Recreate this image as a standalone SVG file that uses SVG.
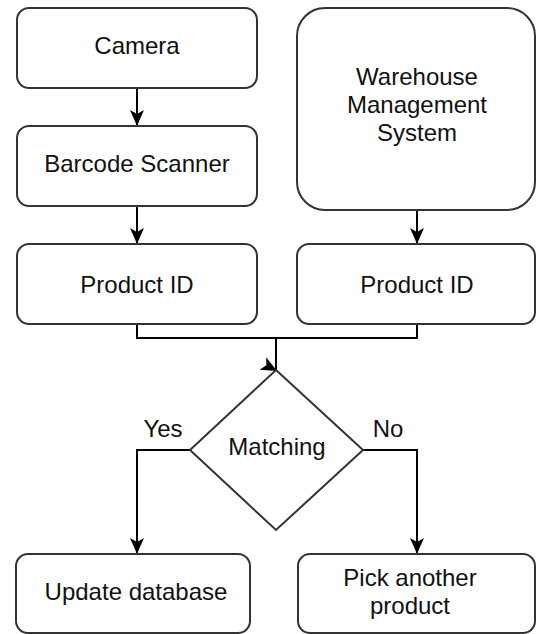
<svg xmlns="http://www.w3.org/2000/svg" xmlns:xlink="http://www.w3.org/1999/xlink" width="536" height="634" viewBox="0 0 536 634">
  <style>
    .box { fill: #ffffff; stroke: #333333; stroke-width: 2; }
    .edge { fill: none; stroke: #000000; stroke-width: 2; }
    .lbl { font-family: "Liberation Sans", Arial, sans-serif; font-size: 24px; fill: #111111; text-anchor: middle; }
  </style>
  <defs>
    <!-- classic notched arrowhead, tip at the line end -->
    <marker id="arrow" viewBox="-17 -8 18 16" refX="0" refY="0" markerWidth="18" markerHeight="16" markerUnits="userSpaceOnUse" orient="auto">
      <path d="M0,0 L-16,-7 L-12,0 L-16,7 Z" fill="#000000"/>
    </marker>
    <path id="head" d="M0,0 L-16,-7 L-12,0 L-16,7 Z" fill="#000000"/>
  </defs>
  <rect width="536" height="634" fill="#ffffff"/>

  <g id="connectors">
    <line class="edge" x1="137" y1="88" x2="137" y2="126" marker-end="url(#arrow)"/>
    <line class="edge" x1="137" y1="206" x2="137" y2="244" marker-end="url(#arrow)"/>
    <line class="edge" x1="417" y1="210" x2="417" y2="244" marker-end="url(#arrow)"/>
    <polyline class="edge" points="137,324 137,338 417,338 417,324"/>
    <line class="edge" x1="276" y1="338" x2="276" y2="370"/>
    <use xlink:href="#head" transform="translate(277,371) rotate(28)"/>
    <polyline class="edge" points="190,450 137,450 137,554" marker-end="url(#arrow)"/>
    <polyline class="edge" points="363,450 417,450 417,554" marker-end="url(#arrow)"/>
  </g>

  <g id="camera">
    <rect class="box" x="17" y="8" width="240" height="80" rx="12"/>
    <text class="lbl" x="137" y="54">Camera</text>
  </g>
  <g id="barcode-scanner">
    <rect class="box" x="17" y="126" width="240" height="80" rx="12"/>
    <text class="lbl" x="137" y="172">Barcode Scanner</text>
  </g>
  <g id="product-id-left">
    <rect class="box" x="17" y="244" width="240" height="80" rx="12"/>
    <text class="lbl" x="137" y="293">Product ID</text>
  </g>
  <g id="wms">
    <rect class="box" x="297" y="8" width="238" height="202" rx="28"/>
    <text class="lbl" x="417" y="85">Warehouse</text>
    <text class="lbl" x="417" y="113">Management</text>
    <text class="lbl" x="417" y="141">System</text>
  </g>
  <g id="product-id-right">
    <rect class="box" x="297" y="244" width="238" height="80" rx="12"/>
    <text class="lbl" x="417" y="293">Product ID</text>
  </g>
  <g id="matching">
    <polygon class="box" points="276,370 363,450 276,530 190,450"/>
    <text class="lbl" x="277" y="455">Matching</text>
  </g>
  <g id="labels">
    <text class="lbl" x="163" y="437">Yes</text>
    <text class="lbl" x="388" y="437">No</text>
  </g>
  <g id="update-database">
    <rect class="box" x="16" y="554" width="234" height="79" rx="12"/>
    <text class="lbl" x="136" y="600">Update database</text>
  </g>
  <g id="pick-another">
    <rect class="box" x="298" y="554" width="237" height="79" rx="12"/>
    <text class="lbl" x="410" y="586">Pick another</text>
    <text class="lbl" x="410" y="614">product</text>
  </g>
</svg>
